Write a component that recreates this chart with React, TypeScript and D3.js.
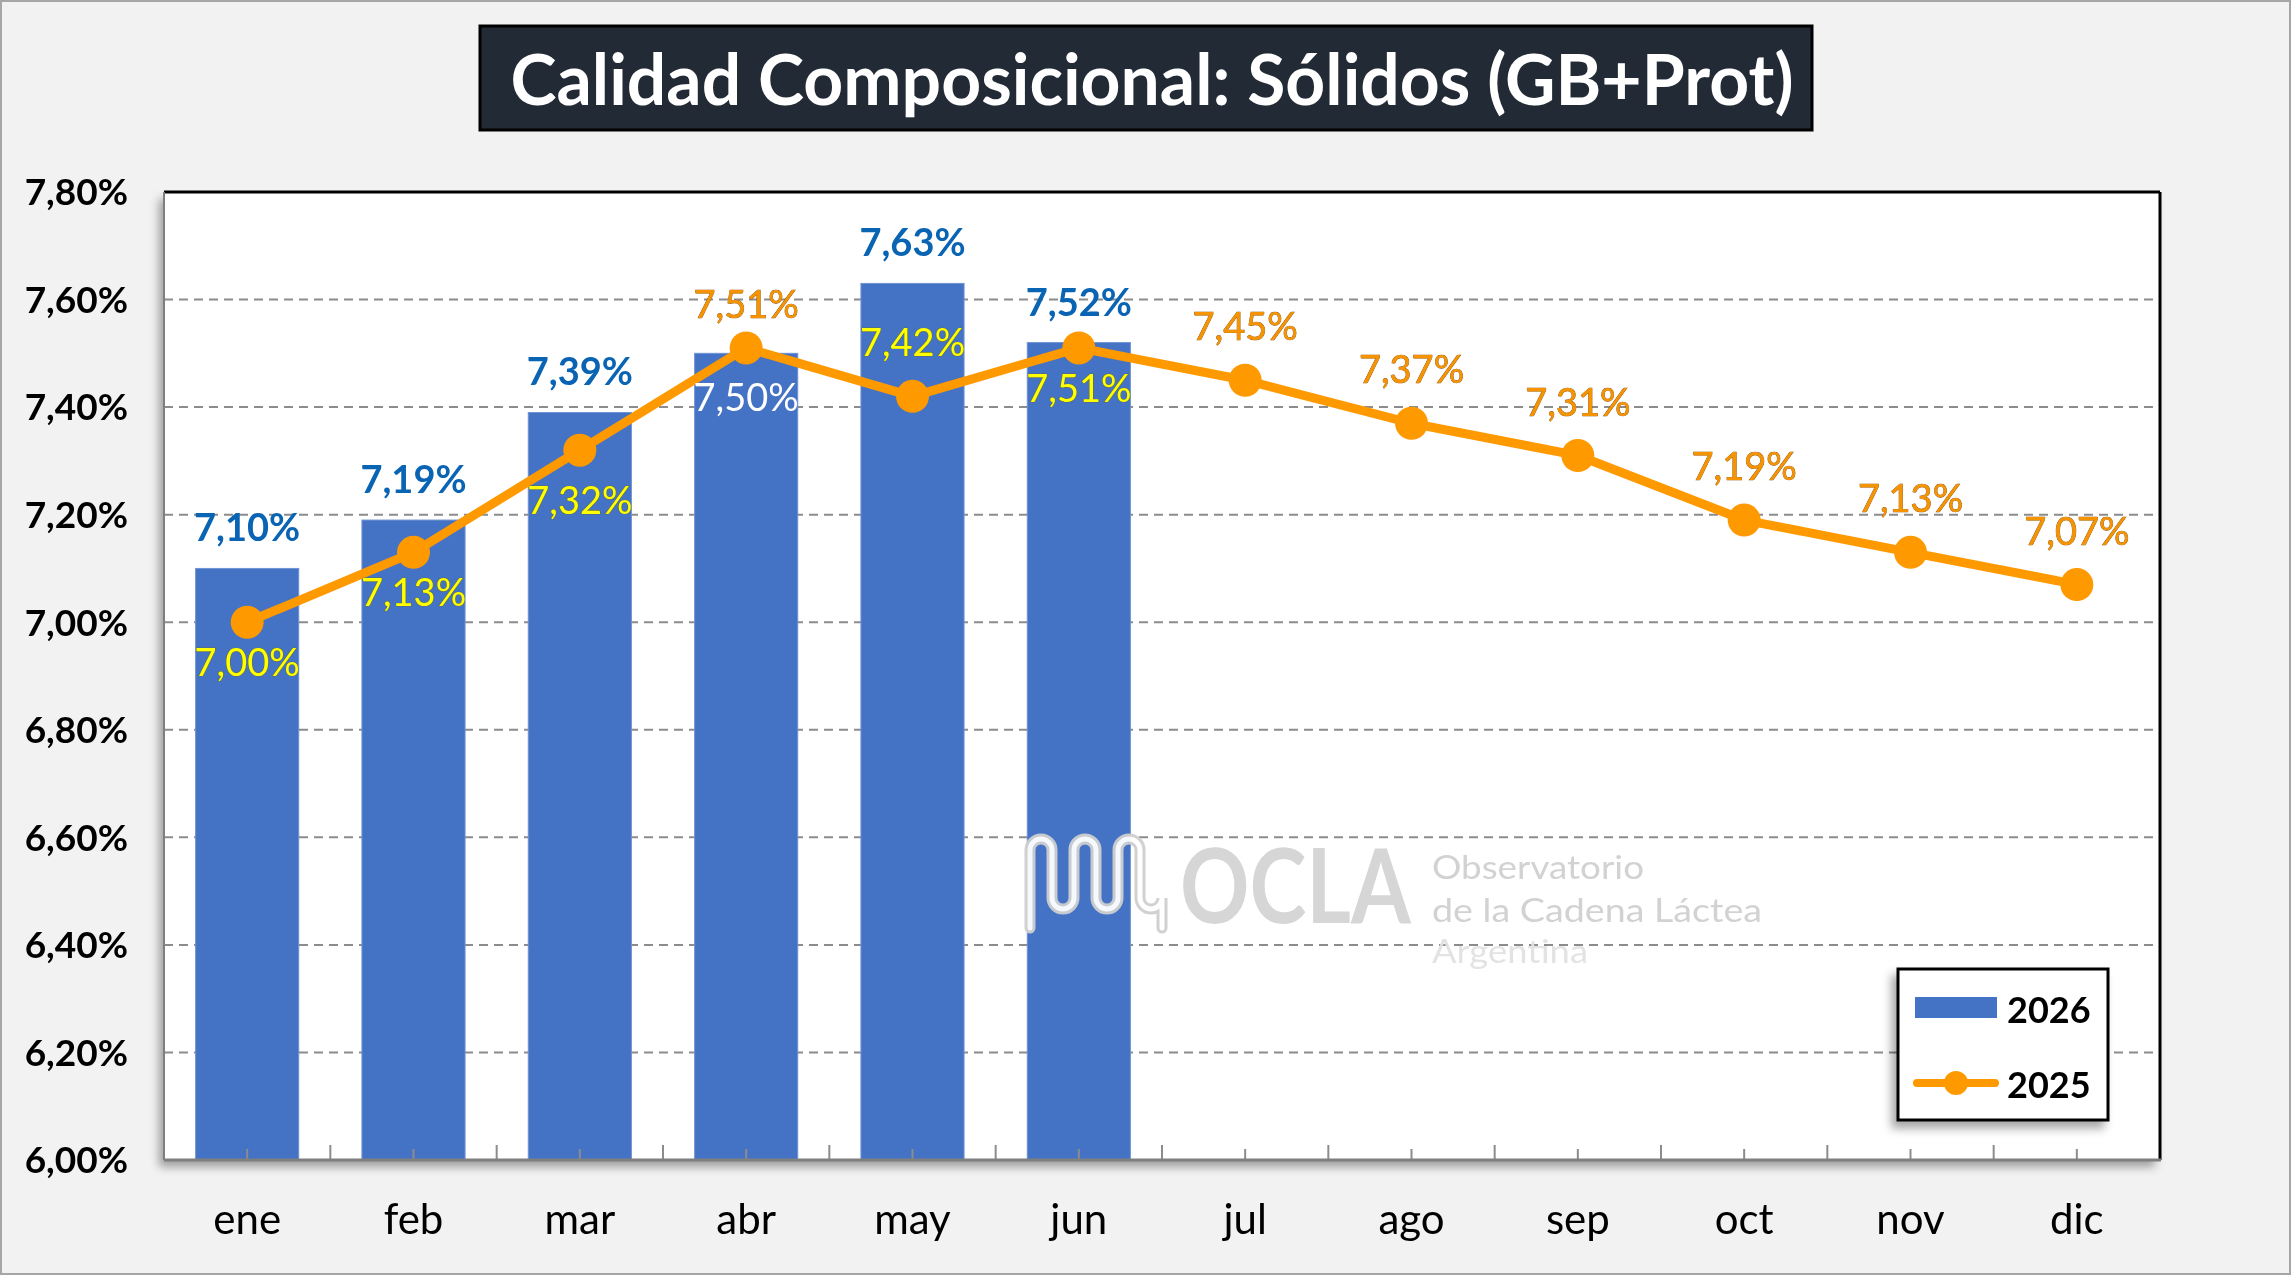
import React, { useEffect } from 'react';
import * as d3 from 'd3';

const months = ['ene', 'feb', 'mar', 'abr', 'may', 'jun', 'jul', 'ago', 'sep', 'oct', 'nov', 'dic'];
const values2026 = [7.10, 7.19, 7.39, 7.50, 7.63, 7.52];
const values2025 = [7.00, 7.13, 7.32, 7.51, 7.42, 7.51, 7.45, 7.37, 7.31, 7.19, 7.13, 7.07];
const yTicks = [6.0, 6.2, 6.4, 6.6, 6.8, 7.0, 7.2, 7.4, 7.6, 7.8];
const seriesNames = ['2026', '2025'];

// label placement for the 2025 line (style only)
const lineLabelSide = ['below', 'below', 'below', 'above', 'above', 'below', 'above', 'above', 'above', 'above', 'above', 'above'];
const barLabelInside = [false, false, false, true, false, false];

const W = 2291;
const H = 1275;
const plot = { left: 164, right: 2160, top: 192, bottom: 1160 };
const FONT = "Lato, 'Open Sans', sans-serif";
const BLUE = '#4472c4';
const ORANGE = '#ff9900';

const esLocale = d3.formatLocale({ decimal: ',', thousands: '.', grouping: [3], currency: ['', ''] });
const fmt = (v: number) => esLocale.format('.2f')(v) + '%';

export default function App() {
  useEffect(() => {
    document.body.style.margin = '0';
    document.body.style.overflow = 'hidden';
  }, []);

  const x = d3.scaleBand<string>().domain(months).range([plot.left, plot.right]).paddingInner(0.38).paddingOuter(0.19);
  const y = d3.scaleLinear().domain([6, 7.8]).range([plot.bottom, plot.top]);
  const step = x.step();
  const cx = (m: string) => (x(m) as number) + x.bandwidth() / 2;

  const linePath = d3
    .line<number>()
    .x((_, i) => cx(months[i]))
    .y((d) => y(d))(values2025) as string;

  // watermark meander icon
  const meander = 'M1030,928 V850 a11,11 0 0 1 22,0 V898 a11,11 0 0 0 22,0 V850 a11,11 0 0 1 22,0 V898 a11,11 0 0 0 22,0 V850 a11,11 0 0 1 22,0 V898 a11,11 0 0 0 22,0 V928';

  return (
    <svg width={W} height={H} viewBox={`0 0 ${W} ${H}`} style={{ display: 'block', fontFamily: FONT }}>
      <defs>
        <filter id="shadow" x="-10%" y="-10%" width="120%" height="125%">
          <feDropShadow dx="-5" dy="7" stdDeviation="5" floodColor="#000" floodOpacity="0.35" />
        </filter>
      </defs>

      <rect x={1} y={1} width={W - 2} height={H - 2} fill="#f2f2f2" stroke="#a6a6a6" strokeWidth={2} />

      {/* title */}
      <rect x={480} y={26} width={1332} height={104} fill="#222a35" stroke="#000" strokeWidth={3} />
      <text x={1152} y={105} textAnchor="middle" fill="#fff" fontSize={70} fontWeight={700} textLength={1283} lengthAdjust="spacingAndGlyphs">
        Calidad Composicional: Sólidos (GB+Prot)
      </text>

      {/* plot area */}
      <rect x={plot.left} y={plot.top} width={plot.right - plot.left} height={plot.bottom - plot.top} fill="#fff" filter="url(#shadow)" />

      {yTicks.slice(1, -1).map((t) => (
        <line key={t} x1={plot.left} x2={plot.right} y1={y(t)} y2={y(t)} stroke="#8c8c8c" strokeWidth={2} strokeDasharray="9 6" />
      ))}

      {/* bars 2026 */}
      {values2026.map((v, i) => (
        <rect key={i} x={x(months[i])} y={y(v)} width={x.bandwidth()} height={plot.bottom - y(v)} fill={BLUE} stroke="#6f93d3" strokeWidth={1} />
      ))}

      {/* watermark */}
      <g opacity={0.95}>
        <path d={meander} fill="none" stroke="#cfcfcf" strokeWidth={11} strokeLinecap="round" />
        <path d={meander} fill="none" stroke="#fff" strokeWidth={5} strokeLinecap="round" />
        <g transform="translate(1180,923) scale(1,1.2)">
          <text x={0} y={0} fill="#d4d4d4" fontSize={86} fontWeight={700}>OCLA</text>
        </g>
        <text fontSize={33} fill="#d0d0d0">
          <tspan x={1432} y={879} textLength={212} lengthAdjust="spacingAndGlyphs">Observatorio</tspan>
          <tspan x={1432} y={922} textLength={330} lengthAdjust="spacingAndGlyphs">de la Cadena Láctea</tspan>
          <tspan x={1432} y={963} textLength={156} lengthAdjust="spacingAndGlyphs" fill="#e2e2e2">Argentina</tspan>
        </text>
      </g>

      {/* axis ticks */}
      {months.map((m, i) => (
        <g key={m}>
          <line x1={cx(m)} x2={cx(m)} y1={plot.bottom - 11} y2={plot.bottom} stroke="#8c8c8c" strokeWidth={2} />
          {i > 0 && <line x1={plot.left + step * i} x2={plot.left + step * i} y1={plot.bottom - 15} y2={plot.bottom} stroke="#8c8c8c" strokeWidth={2} />}
        </g>
      ))}

      {/* plot borders */}
      <line x1={plot.left} x2={plot.right} y1={plot.top} y2={plot.top} stroke="#000" strokeWidth={3} />
      <line x1={plot.right} x2={plot.right} y1={plot.top} y2={plot.bottom} stroke="#000" strokeWidth={3} />
      <line x1={plot.left} x2={plot.left} y1={plot.top} y2={plot.bottom} stroke="#7f7f7f" strokeWidth={2} />
      <line x1={plot.left} x2={plot.right + 1} y1={plot.bottom} y2={plot.bottom} stroke="#7f7f7f" strokeWidth={3} />

      {/* line 2025 */}
      <path d={linePath} fill="none" stroke={ORANGE} strokeWidth={9} strokeLinejoin="round" />
      {values2025.map((v, i) => (
        <circle key={i} cx={cx(months[i])} cy={y(v)} r={16.5} fill={ORANGE} />
      ))}

      {/* bar labels */}
      {values2026.map((v, i) => (
        <text key={i} x={cx(months[i])} y={barLabelInside[i] ? y(v) + 58 : y(v) - 27} textAnchor="middle" fontSize={38}
          fill={barLabelInside[i] ? '#fff' : '#0a64b4'} fontWeight={barLabelInside[i] ? 400 : 700}>
          {fmt(v)}
        </text>
      ))}

      {/* line labels */}
      {values2025.map((v, i) => {
        const above = lineLabelSide[i] === 'above';
        const onBar = i < values2026.length && !(i === 3);
        const color = onBar ? '#ffff00' : '#f59300';
        return (
          <text key={i} x={cx(months[i])} y={above ? y(v) - (i === 3 ? 30 : 40) : y(v) + (i === 2 ? 64 : 54)} textAnchor="middle" fontSize={38}
            fill={color} stroke={onBar ? '#6b6b00' : '#8a4a00'} strokeWidth={0.7} paintOrder="stroke">
            {fmt(v)}
          </text>
        );
      })}

      {/* y axis labels */}
      {yTicks.map((t) => (
        <text key={t} x={128} y={y(t)} dy="0.36em" textAnchor="end" fontSize={37} fontWeight={700} fill="#000">
          {fmt(t)}
        </text>
      ))}

      {/* x axis labels */}
      {months.map((m) => (
        <text key={m} x={cx(m)} y={1234} textAnchor="middle" fontSize={42} fill="#000">
          {m}
        </text>
      ))}

      {/* legend */}
      <g>
        <rect x={1898} y={969} width={210} height={151} fill="#fff" stroke="#000" strokeWidth={3} filter="url(#shadow)" />
        <rect x={1915} y={997} width={82} height={21} fill={BLUE} />
        <text x={2007} y={1023} fontSize={36} fontWeight={700} fill="#000">{seriesNames[0]}</text>
        <line x1={1917} x2={1995} y1={1083} y2={1083} stroke={ORANGE} strokeWidth={8} strokeLinecap="round" />
        <circle cx={1956} cy={1083} r={12} fill={ORANGE} />
        <text x={2007} y={1098} fontSize={36} fontWeight={700} fill="#000">{seriesNames[1]}</text>
      </g>
    </svg>
  );
}
